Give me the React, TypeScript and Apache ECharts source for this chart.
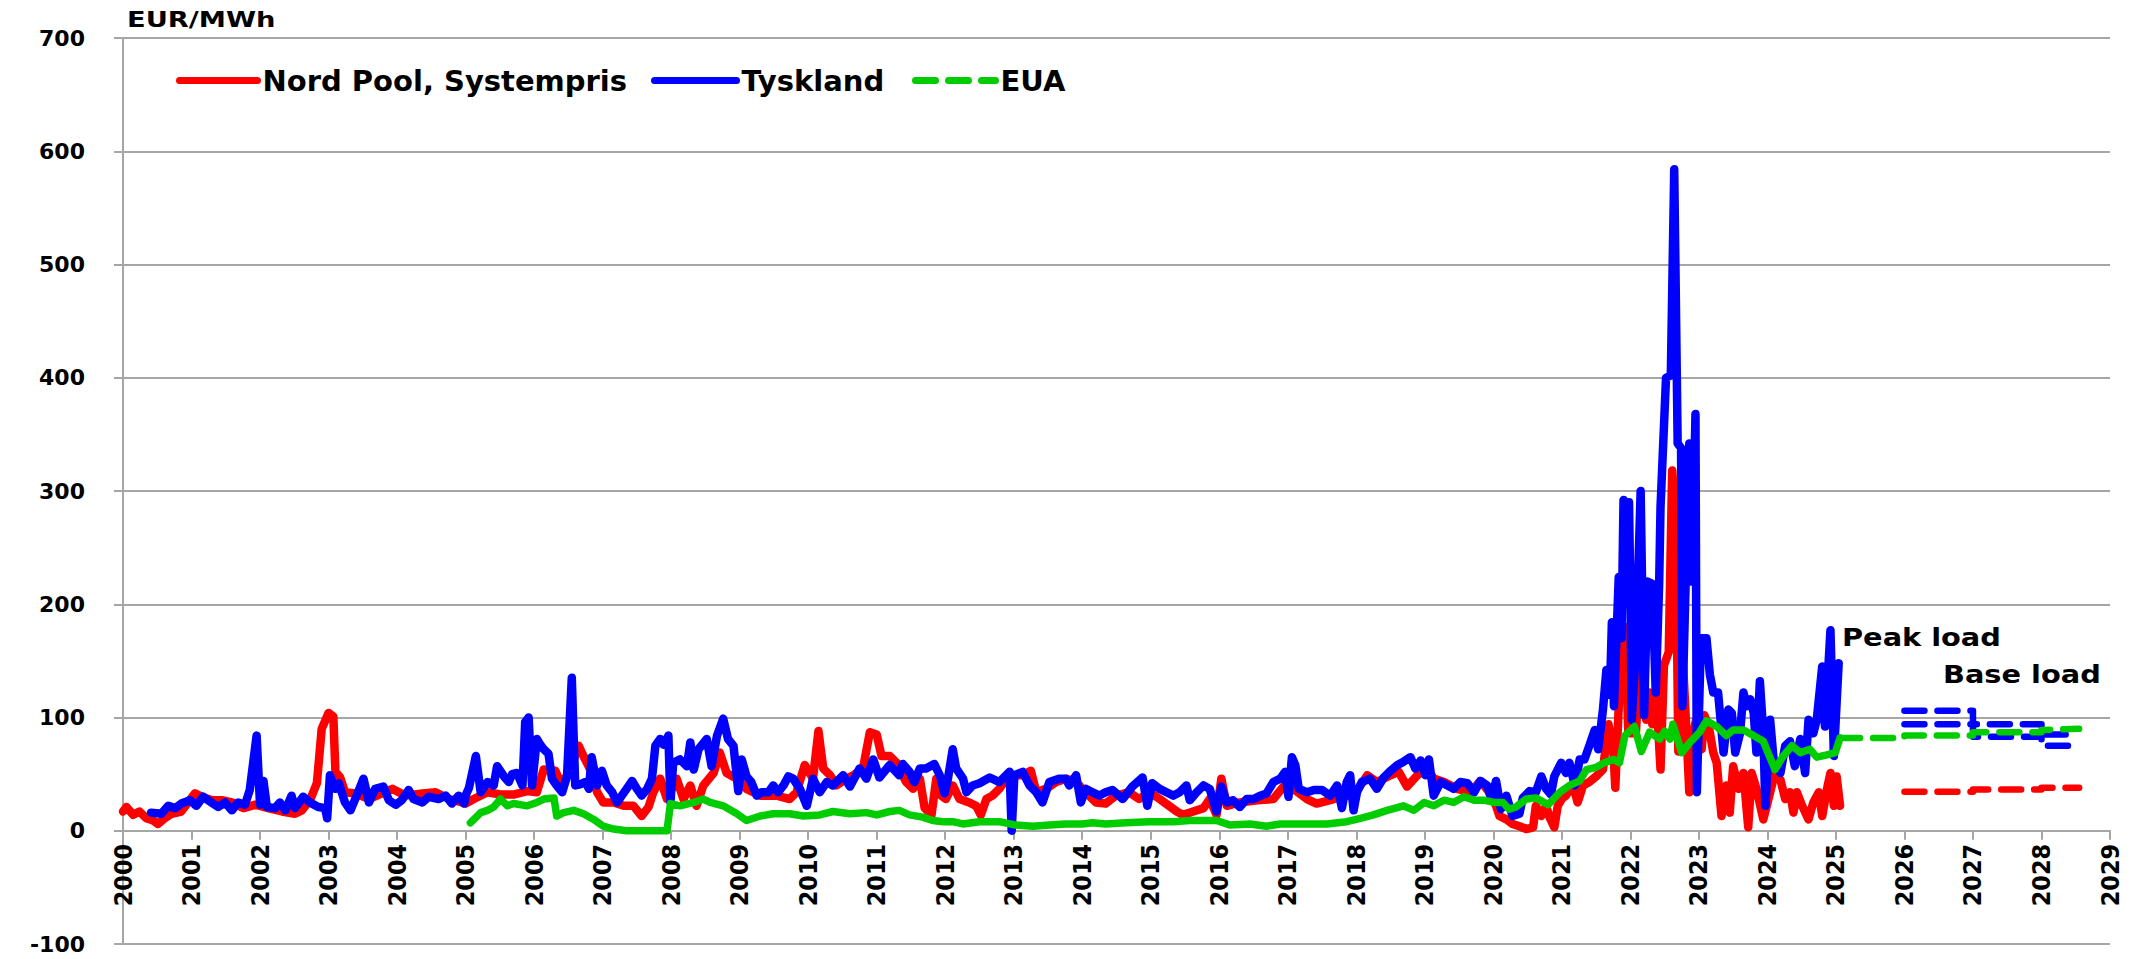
import React, { useEffect, useRef } from "react";
import * as echarts from "echarts";

// ---- data (decimal year, EUR/MWh) ----
const nordPool: [number, number][] = [
  [2000.0, 17], [2000.05, 21], [2000.15, 14], [2000.24, 17], [2000.34, 11], [2000.44, 9], [2000.51, 6], [2000.61, 11],
  [2000.71, 15], [2000.85, 17], [2001.05, 33], [2001.15, 30], [2001.3, 27], [2001.44, 27], [2001.59, 25], [2001.76, 20],
  [2001.93, 23], [2002.12, 20], [2002.32, 17], [2002.51, 15], [2002.61, 18], [2002.73, 27], [2002.83, 42], [2002.9, 90],
  [2003.0, 104], [2003.07, 101], [2003.1, 52], [2003.17, 47], [2003.24, 34], [2003.39, 33], [2003.59, 28], [2003.78, 33],
  [2003.93, 37], [2004.12, 31], [2004.37, 33], [2004.56, 34], [2004.76, 28], [2004.95, 25], [2005.0, 24], [2005.12, 28],
  [2005.32, 34], [2005.51, 32], [2005.7, 32], [2005.9, 35], [2006.04, 34], [2006.14, 54], [2006.31, 53], [2006.38, 43],
  [2006.48, 48], [2006.58, 63], [2006.65, 75], [2006.72, 66], [2006.82, 54], [2006.92, 34], [2007.01, 25], [2007.16, 25],
  [2007.31, 22], [2007.45, 22], [2007.57, 13], [2007.67, 21], [2007.74, 34], [2007.84, 46], [2007.94, 28], [2008.08, 46],
  [2008.18, 28], [2008.28, 40], [2008.37, 22], [2008.47, 40], [2008.62, 51], [2008.71, 69], [2008.81, 51], [2008.96, 46],
  [2009.1, 37], [2009.3, 31], [2009.54, 31], [2009.73, 28], [2009.83, 34], [2009.95, 58], [2010.07, 46], [2010.15, 88],
  [2010.22, 55], [2010.32, 49], [2010.41, 40], [2010.56, 46], [2010.66, 49], [2010.8, 55], [2010.9, 87], [2011.0, 85],
  [2011.07, 66], [2011.19, 66], [2011.29, 60], [2011.43, 43], [2011.53, 37], [2011.63, 46], [2011.7, 20], [2011.8, 14],
  [2011.87, 46], [2011.94, 31], [2012.01, 28], [2012.11, 40], [2012.21, 28], [2012.35, 25], [2012.45, 22], [2012.52, 14],
  [2012.6, 28], [2012.69, 31], [2012.79, 37], [2012.89, 46], [2013.03, 49], [2013.13, 49], [2013.25, 53], [2013.33, 34],
  [2013.47, 37], [2013.62, 43], [2013.76, 46], [2013.91, 43], [2014.05, 34], [2014.2, 25], [2014.34, 24], [2014.49, 31],
  [2014.68, 34], [2014.83, 28], [2014.98, 34], [2015.13, 28], [2015.38, 17], [2015.47, 14], [2015.62, 17], [2015.77, 20],
  [2015.86, 28], [2015.96, 14], [2016.03, 46], [2016.11, 22], [2016.3, 25], [2016.55, 27], [2016.79, 28], [2016.99, 43],
  [2017.08, 37], [2017.28, 28], [2017.42, 24], [2017.62, 27], [2017.81, 31], [2017.96, 31], [2018.16, 49], [2018.3, 43],
  [2018.5, 49], [2018.62, 52], [2018.74, 39], [2018.89, 49], [2019.03, 55], [2019.13, 46], [2019.28, 43], [2019.47, 37],
  [2019.67, 34], [2019.81, 44], [2019.94, 34], [2020.04, 22], [2020.09, 13], [2020.19, 10], [2020.28, 6], [2020.38, 4],
  [2020.48, 1.5], [2020.58, 3], [2020.62, 22], [2020.7, 13], [2020.77, 22], [2020.82, 12], [2020.89, 3], [2020.94, 22],
  [2021.01, 29], [2021.06, 31], [2021.16, 41], [2021.23, 25], [2021.31, 40], [2021.4, 43], [2021.5, 48], [2021.6, 54],
  [2021.68, 94], [2021.75, 72], [2021.78, 38], [2021.85, 138], [2021.92, 180], [2021.97, 87], [2022.0, 86], [2022.08, 86],
  [2022.15, 158], [2022.23, 98], [2022.28, 122], [2022.32, 94], [2022.38, 118], [2022.44, 54], [2022.49, 146], [2022.56, 158],
  [2022.61, 318], [2022.66, 278], [2022.7, 70], [2022.76, 158], [2022.8, 110], [2022.86, 34], [2022.92, 87], [2022.96, 98],
  [2023.04, 72], [2023.08, 102], [2023.15, 90], [2023.21, 69], [2023.26, 60], [2023.33, 13], [2023.4, 40], [2023.45, 16],
  [2023.5, 57], [2023.58, 37], [2023.65, 51], [2023.72, 3], [2023.77, 51], [2023.84, 37], [2023.94, 10], [2024.04, 34],
  [2024.11, 51], [2024.19, 45], [2024.26, 28], [2024.33, 34], [2024.38, 16], [2024.43, 34], [2024.5, 23], [2024.6, 10],
  [2024.67, 25], [2024.75, 34], [2024.8, 13], [2024.87, 37], [2024.92, 51], [2024.97, 22], [2025.01, 48], [2025.06, 22],
];

const tyskland: [number, number][] = [
  [2000.41, 16], [2000.56, 15], [2000.66, 22], [2000.76, 20], [2000.85, 24], [2000.98, 27], [2001.07, 22], [2001.17, 30],
  [2001.29, 25], [2001.39, 21], [2001.49, 25], [2001.59, 18], [2001.68, 25], [2001.78, 23], [2001.85, 36], [2001.95, 84],
  [2002.0, 23], [2002.05, 44], [2002.1, 21], [2002.22, 20], [2002.29, 25], [2002.37, 18], [2002.46, 31], [2002.51, 20],
  [2002.63, 30], [2002.73, 25], [2002.85, 21], [2002.95, 20], [2002.98, 11], [2003.02, 49], [2003.1, 37], [2003.15, 42],
  [2003.24, 25], [2003.32, 18], [2003.41, 31], [2003.51, 46], [2003.59, 25], [2003.68, 37], [2003.8, 39], [2003.88, 27],
  [2003.98, 23], [2004.07, 27], [2004.17, 36], [2004.24, 28], [2004.37, 25], [2004.46, 30], [2004.61, 28], [2004.71, 31],
  [2004.8, 24], [2004.9, 31], [2004.98, 24], [2005.0, 31], [2005.05, 38], [2005.15, 66], [2005.22, 34], [2005.32, 43],
  [2005.41, 40], [2005.46, 57], [2005.56, 48], [2005.63, 43], [2005.68, 50], [2005.75, 51], [2005.83, 40], [2005.87, 96],
  [2005.92, 100], [2005.97, 40], [2006.04, 81], [2006.09, 76], [2006.14, 72], [2006.21, 68], [2006.26, 46], [2006.33, 40],
  [2006.41, 34], [2006.48, 48], [2006.55, 135], [2006.6, 40], [2006.67, 41], [2006.75, 43], [2006.8, 37], [2006.84, 65],
  [2006.92, 40], [2006.99, 53], [2007.06, 40], [2007.14, 34], [2007.21, 25], [2007.28, 31], [2007.35, 37], [2007.43, 44],
  [2007.5, 37], [2007.57, 31], [2007.65, 37], [2007.72, 46], [2007.77, 75], [2007.84, 81], [2007.89, 76], [2007.96, 84],
  [2007.99, 25], [2008.03, 60], [2008.13, 63], [2008.23, 57], [2008.28, 78], [2008.33, 54], [2008.4, 72], [2008.52, 81],
  [2008.59, 57], [2008.67, 84], [2008.76, 99], [2008.83, 81], [2008.91, 75], [2008.98, 35], [2009.03, 63], [2009.1, 48],
  [2009.17, 43], [2009.25, 31], [2009.32, 34], [2009.42, 34], [2009.49, 40], [2009.56, 34], [2009.64, 40], [2009.71, 48],
  [2009.78, 46], [2009.88, 37], [2009.98, 22], [2010.07, 46], [2010.17, 34], [2010.27, 43], [2010.36, 40], [2010.51, 49],
  [2010.61, 39], [2010.75, 55], [2010.85, 46], [2010.95, 63], [2011.04, 47], [2011.19, 58], [2011.33, 49], [2011.38, 59],
  [2011.48, 52], [2011.55, 43], [2011.63, 55], [2011.72, 55], [2011.84, 59], [2011.92, 49], [2011.99, 33], [2012.04, 46],
  [2012.11, 72], [2012.16, 55], [2012.26, 46], [2012.31, 34], [2012.4, 40], [2012.5, 42], [2012.65, 47], [2012.79, 43],
  [2012.94, 52], [2012.97, 0], [2013.01, 49], [2013.13, 52], [2013.23, 40], [2013.33, 34], [2013.42, 25], [2013.52, 43],
  [2013.67, 46], [2013.76, 46], [2013.81, 40], [2013.91, 49], [2013.98, 25], [2014.05, 37], [2014.15, 34], [2014.25, 31],
  [2014.34, 34], [2014.44, 36], [2014.59, 28], [2014.73, 39], [2014.88, 47], [2014.95, 22], [2015.02, 42], [2015.13, 37],
  [2015.23, 34], [2015.33, 31], [2015.42, 34], [2015.52, 40], [2015.57, 27], [2015.67, 34], [2015.77, 40], [2015.86, 37],
  [2015.96, 17], [2016.03, 39], [2016.11, 25], [2016.2, 27], [2016.3, 21], [2016.4, 28], [2016.5, 28], [2016.6, 31],
  [2016.69, 33], [2016.79, 43], [2016.89, 46], [2016.96, 52], [2017.01, 30], [2017.06, 65], [2017.11, 58], [2017.16, 37],
  [2017.28, 34], [2017.38, 36], [2017.5, 36], [2017.62, 31], [2017.72, 40], [2017.79, 20], [2017.86, 43], [2017.91, 49],
  [2017.96, 18], [2018.01, 34], [2018.08, 43], [2018.2, 46], [2018.3, 37], [2018.4, 47], [2018.5, 53], [2018.6, 58],
  [2018.69, 61], [2018.79, 65], [2018.86, 55], [2018.94, 62], [2019.01, 49], [2019.06, 63], [2019.13, 31], [2019.23, 43],
  [2019.33, 40], [2019.42, 37], [2019.52, 43], [2019.62, 42], [2019.72, 34], [2019.81, 44], [2019.91, 40], [2019.97, 28],
  [2020.04, 44], [2020.11, 19], [2020.19, 31], [2020.28, 13], [2020.38, 15], [2020.43, 29], [2020.53, 35], [2020.62, 34],
  [2020.7, 48], [2020.77, 37], [2020.84, 32], [2020.89, 48], [2020.99, 60], [2021.06, 51], [2021.11, 60], [2021.19, 40],
  [2021.26, 63], [2021.33, 63], [2021.4, 75], [2021.48, 89], [2021.53, 72], [2021.6, 107], [2021.65, 142], [2021.7, 120],
  [2021.73, 184], [2021.76, 110], [2021.83, 224], [2021.87, 170], [2021.9, 292], [2021.94, 200], [2021.98, 290], [2022.0, 208],
  [2022.02, 98], [2022.08, 158], [2022.15, 300], [2022.2, 102], [2022.25, 220], [2022.32, 218], [2022.37, 122], [2022.42, 218],
  [2022.44, 286], [2022.52, 400], [2022.59, 402], [2022.64, 584], [2022.69, 342], [2022.74, 338], [2022.76, 110], [2022.82, 250],
  [2022.86, 342], [2022.9, 220], [2022.95, 368], [2022.97, 34], [2023.03, 170], [2023.11, 170], [2023.16, 138], [2023.21, 122],
  [2023.28, 122], [2023.36, 69], [2023.43, 107], [2023.48, 104], [2023.53, 69], [2023.6, 86], [2023.65, 122], [2023.7, 110],
  [2023.75, 116], [2023.8, 104], [2023.84, 69], [2023.89, 132], [2023.94, 86], [2023.97, 22], [2024.04, 98], [2024.09, 63],
  [2024.19, 51], [2024.26, 75], [2024.33, 79], [2024.4, 57], [2024.48, 81], [2024.55, 51], [2024.6, 98], [2024.67, 86],
  [2024.72, 98], [2024.8, 145], [2024.84, 92], [2024.92, 177], [2024.97, 66], [2025.04, 148],
];

const eua: [number, number][] = [
  [2005.07, 7], [2005.22, 16], [2005.32, 18], [2005.41, 21], [2005.51, 28], [2005.61, 22], [2005.7, 24], [2005.9, 22],
  [2006.04, 25], [2006.14, 28], [2006.29, 29], [2006.33, 13], [2006.43, 16], [2006.58, 18], [2006.72, 15], [2006.87, 10],
  [2007.01, 4], [2007.16, 1.5], [2007.35, 0], [2007.94, 0], [2007.99, 24], [2008.13, 22], [2008.33, 25], [2008.47, 28],
  [2008.57, 25], [2008.76, 22], [2008.96, 15], [2009.1, 9], [2009.3, 13], [2009.49, 15], [2009.73, 15], [2009.93, 13],
  [2010.17, 14], [2010.36, 17], [2010.61, 15], [2010.85, 16], [2011.0, 14], [2011.19, 17], [2011.33, 18], [2011.48, 14],
  [2011.67, 12], [2011.82, 9], [2011.97, 8], [2012.11, 8], [2012.26, 6], [2012.5, 8], [2012.79, 8], [2013.03, 5],
  [2013.28, 4], [2013.52, 5], [2013.76, 6], [2014.0, 6], [2014.15, 7], [2014.34, 6], [2014.64, 7], [2014.98, 8],
  [2015.33, 8], [2015.57, 9], [2015.96, 9], [2016.16, 5], [2016.45, 6], [2016.69, 4], [2016.89, 6], [2017.28, 6],
  [2017.57, 6], [2017.86, 8], [2018.06, 11], [2018.25, 14], [2018.45, 18], [2018.69, 22], [2018.84, 18], [2018.99, 25],
  [2019.13, 22], [2019.28, 27], [2019.42, 25], [2019.57, 30], [2019.72, 27], [2019.86, 27], [2020.01, 25], [2020.14, 25],
  [2020.23, 19], [2020.33, 21], [2020.48, 28], [2020.62, 29], [2020.8, 23], [2020.97, 34], [2021.11, 40], [2021.26, 44],
  [2021.36, 54], [2021.5, 56], [2021.62, 60], [2021.75, 63], [2021.84, 60], [2021.92, 84], [2022.06, 92], [2022.16, 70],
  [2022.28, 87], [2022.43, 81], [2022.5, 88], [2022.58, 81], [2022.62, 94], [2022.75, 69], [2022.87, 78], [2023.01, 87],
  [2023.11, 97], [2023.26, 92], [2023.4, 84], [2023.5, 89], [2023.65, 89], [2023.8, 84], [2023.94, 79], [2024.11, 54],
  [2024.23, 66], [2024.36, 75], [2024.48, 69], [2024.62, 72], [2024.72, 65], [2024.87, 67], [2024.99, 69], [2025.06, 82],
];

// forward prices
const euaForward: [number, number][] = [
  [2025.06, 82], [2026.0, 82], [2026.0, 84], [2027.0, 84], [2027.0, 87], [2028.0, 87], [2028.0, 89], [2028.55, 90],
];
const nordPoolForward: [number, number][] = [
  [2026.0, 34.5], [2027.0, 34.5], [2027.0, 36.5], [2028.0, 36.5], [2028.0, 38], [2028.55, 38],
];
const tysklandPeakForward: [number, number][] = [
  [2026.0, 106], [2027.0, 106], [2027.0, 94], [2028.0, 94], [2028.0, 85], [2028.45, 85],
];
const tysklandBaseForward: [number, number][] = [
  [2026.0, 94], [2027.0, 94], [2027.0, 83], [2028.0, 83], [2028.0, 75], [2028.45, 75],
];

const yearMin = 2000;
const yearMax = 2029;
const yMin = -100;
const yMax = 700;

const RED = "#ff0000";
const BLUE = "#0000ff";
const GREEN = "#00cc00";
const GRID_GRAY = "#a6a6a6";
const BOLD_FONT = "'DejaVu Sans', Verdana, sans-serif";

const GRID_TOP = 38;
const GRID_BOTTOM = 15;
const CHART_H = 959;
// distance (px) from the grid's bottom edge up to the value 0, so the x axis sits on zero
const plotH = CHART_H - GRID_TOP - GRID_BOTTOM;
const zeroOffset = (plotH * (0 - yMin)) / (yMax - yMin);

function solid(name: string, data: [number, number][], color: string, width: number) {
  return {
    name,
    type: "line",
    data,
    symbol: "none",
    showSymbol: false,
    lineStyle: { color, width, cap: "round", join: "round" },
    itemStyle: { color },
  };
}
function dashed(name: string, data: [number, number][], color: string, width: number) {
  return {
    name,
    type: "line",
    data,
    symbol: "none",
    showSymbol: false,
    lineStyle: { color, width, type: [20, 13], cap: "round", join: "round" },
    itemStyle: { color },
  };
}

const legendText = { fontFamily: BOLD_FONT, fontWeight: "bold", fontSize: 29, color: "#000" };
const legendBase = {
  top: 61,
  itemHeight: 14,
  textStyle: legendText,
  itemStyle: { opacity: 0, borderWidth: 0 },
  lineStyle: { width: 7, cap: "round" },
};

export default function App() {
  const ref = useRef<HTMLDivElement>(null);
  useEffect(() => {
    document.body.style.margin = "0";
    const chart = echarts.init(ref.current!, null, { renderer: "svg" });
    chart.setOption({
      animation: false,
      backgroundColor: "#ffffff",
      grid: {
        left: 123,
        right: 36,
        top: GRID_TOP,
        bottom: GRID_BOTTOM,
        containLabel: false,
        outerBoundsMode: "none",
      },
      legend: [
        { ...legendBase, left: 171, data: ["Nord Pool, Systempris"], itemWidth: 78 },
        { ...legendBase, left: 646, data: ["Tyskland"], itemWidth: 82 },
        { ...legendBase, left: 907, data: ["EUA"], itemWidth: 80 },
      ],
      xAxis: {
        type: "value",
        min: yearMin,
        max: yearMax,
        interval: 1,
        position: "bottom",
        offset: -zeroOffset,
        axisLine: { onZero: false, lineStyle: { color: GRID_GRAY, width: 2 } },
        axisTick: { show: true, length: 9, lineStyle: { color: GRID_GRAY, width: 2 } },
        splitLine: { show: false },
        axisLabel: {
          rotate: 90,
          margin: 13,
          fontFamily: "'DejaVu Sans Condensed', 'DejaVu Sans', sans-serif",
          fontWeight: "bold",
          fontSize: 25,
          color: "#000",
          formatter: (v: number) => String(Math.round(v)),
        },
      },
      yAxis: {
        type: "value",
        min: yMin,
        max: yMax,
        interval: 100,
        axisLine: { show: true, onZero: false, lineStyle: { color: GRID_GRAY, width: 2 } },
        axisTick: { show: true, length: 9, lineStyle: { color: GRID_GRAY, width: 2 } },
        splitLine: { show: true, lineStyle: { color: GRID_GRAY, width: 2 } },
        axisLabel: {
          margin: 38,
          fontFamily: BOLD_FONT,
          fontWeight: "bold",
          fontSize: 22,
          color: "#000",
        },
      },
      series: [
        solid("Nord Pool, Systempris", nordPool, RED, 8.5),
        solid("Tyskland", tyskland, BLUE, 8.5),
        dashed("Nord Pool forward", nordPoolForward, RED, 6.5),
        dashed("Tyskland peak forward", tysklandPeakForward, BLUE, 6.5),
        dashed("Tyskland base forward", tysklandBaseForward, BLUE, 6.5),
        solid("EUA historisk", eua, GREEN, 7.5),
        dashed("EUA", euaForward, GREEN, 6.5),
      ],
      graphic: [
        {
          type: "text",
          left: 127,
          top: 9,
          style: { text: "EUR/MWh", fontFamily: BOLD_FONT, fontWeight: "bold", fontSize: 21, fill: "#000" },
          scaleX: 1.3,
        },
        {
          type: "text",
          x: 1842,
          y: 637,
          style: {
            text: "Peak load",
            fontFamily: BOLD_FONT,
            fontWeight: "bold",
            fontSize: 24,
            fill: "#000",
            textVerticalAlign: "middle",
          },
          scaleX: 1.2,
        },
        {
          type: "text",
          x: 1943,
          y: 674,
          style: {
            text: "Base load",
            fontFamily: BOLD_FONT,
            fontWeight: "bold",
            fontSize: 24,
            fill: "#000",
            textVerticalAlign: "middle",
          },
          scaleX: 1.2,
        },
      ],
    });
    return () => chart.dispose();
  }, []);
  return <div ref={ref} style={{ width: 2146, height: 959 }} />;
}
